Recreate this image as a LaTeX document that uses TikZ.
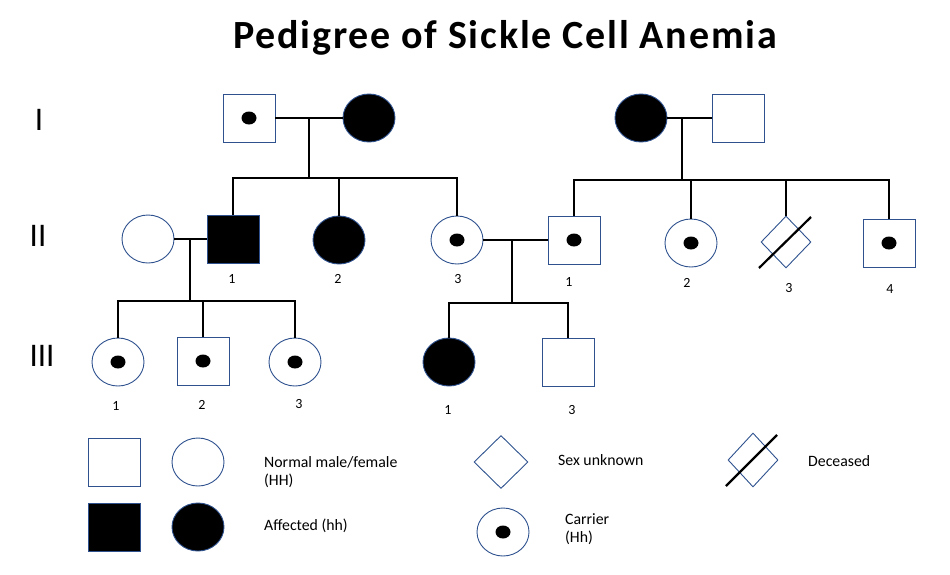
\documentclass[tikz,border=0pt]{standalone}
\usepackage{fontspec}
\setmainfont{Carlito}
\usetikzlibrary{shapes.geometric,calc}
\definecolor{shapeblue}{RGB}{47,82,143}
\tikzset{
  person/.style={
    draw=shapeblue, line width=0.9pt,
    minimum width=52pt, minimum height=48pt,
    inner sep=0pt
  },
  male/.style={person, rectangle},
  female/.style={person, ellipse},
  unknown/.style={person, diamond, minimum width=50pt, minimum height=52pt},
  affected/.style={fill=black},
  carrier/.style={
    path picture={\fill[black] (path picture bounding box.center) ellipse (7.5pt and 6.5pt);}
  },
  link/.style={line width=2.6pt, black},
  deadline/.style={line width=2.2pt, black},
  num/.style={font=\fontsize{14}{14}\selectfont, inner sep=0pt},
  gen/.style={font=\fontsize{33}{33}\selectfont, inner sep=0pt},
  keytext/.style={font=\fontsize{15.8}{18.5}\selectfont, align=left, anchor=west, inner sep=0pt}
}

\begin{document}
\begin{tikzpicture}[x=1pt, y=-1pt]
\fill[white] (0,0) rectangle (950,574);
\useasboundingbox (0,0) rectangle (950,574);

\node[font=\fontsize{40}{44}\selectfont\bfseries\addfontfeature{LetterSpace=4.5}, anchor=base, inner sep=0pt] (title) at (505,48)
  {Pedigree of Sickle Cell Anemia};

% generation labels
\node[gen] (gI)   at (39,120)  {I};
\node[gen] (gII)  at (38,236)  {II};
\node[gen] (gIII) at (42,356)  {III};

% generation I
\node[male, carrier]    (I1) at (249,118) {};
\node[female, affected] (I2) at (369,118) {};
\node[female, affected] (I3) at (641,118) {};
\node[male]             (I4) at (738,118) {};

% generation II
\node[female]           (IIa) at (148,239) {};
\node[male, affected]   (II1) at (233,239) {};
\node[female, affected] (II2) at (339,240) {};
\node[female, carrier]  (II3) at (457,240) {};
\node[male, carrier]    (IIb) at (574,240) {};
\node[female, carrier]  (IIc) at (691,243) {};
\node[unknown]          (IId) at (786,242) {};
\node[male, carrier]    (IIe) at (889,243) {};
\draw[deadline] ($(IId)+(-27,26)$) -- ($(IId)+(25,-25)$);

% generation III
\node[female, carrier]  (III1) at (118,362) {};
\node[male, carrier]    (III2) at (203,361) {};
\node[female, carrier]  (III3) at (295,362) {};
\node[female, affected] (III4) at (449,362) {};
\node[male]             (III5) at (568,362) {};

% numbers
\node[num] (nII1) at (232,279) {1};
\node[num] (nII2) at (338,279) {2};
\node[num] (nII3) at (458,279) {3};
\node[num] (nIIb) at (569,282) {1};
\node[num] (nIIc) at (687,283) {2};
\node[num] (nIId) at (789,288) {3};
\node[num] (nIIe) at (890,289) {4};
\node[num] (nIII1) at (116,406) {1};
\node[num] (nIII2) at (202,405) {2};
\node[num] (nIII3) at (299,404) {3};
\node[num] (nIII4) at (448,410) {1};
\node[num] (nIII5) at (572,410) {3};

% couples and sibships
\coordinate (mI1) at (309,118);
\coordinate (sI1) at (309,178);
\draw[link] (I1) -- (I2);
\draw[link] (mI1) -- (sI1);
\draw[link] (II1.north) |- (sI1) -| (II3.north);
\draw[link] (II2.north) -- (II2.north |- sI1);

\coordinate (mI2) at (682,118);
\coordinate (sI2) at (682,180);
\draw[link] (I3) -- (I4);
\draw[link] (mI2) -- (sI2);
\draw[link] (IIb.north) |- (sI2) -| (IIe.north);
\draw[link] (IIc.north) -- (IIc.north |- sI2);
\draw[link] (IId.north) -- (IId.north |- sI2);

\coordinate (mII1) at (190,239);
\coordinate (sII1) at (190,301);
\draw[link] (IIa) -- (II1);
\draw[link] (mII1) -- (sII1);
\draw[link] (III1.north) |- (sII1) -| (III3.north);
\draw[link] (III2.north) -- (III2.north |- sII1);

\coordinate (mII2) at (512,240);
\coordinate (sII2) at (512,303);
\draw[link] (II3) -- (IIb);
\draw[link] (mII2) -- (sII2);
\draw[link] (III4.north) |- (sII2) -| (III5.north);

% key
\node[male]                (kMale)    at (114,462) {};
\node[female]              (kFemale)  at (198,462) {};
\node[male, affected]      (kAffM)    at (114,527) {};
\node[female, affected]    (kAffF)    at (198,527) {};
\node[unknown, minimum width=54pt, minimum height=53pt] (kUnknown) at (501,462) {};
\node[unknown, minimum height=54pt] (kDead) at (753,460) {};
\draw[deadline] ($(kDead)+(-27,26)$) -- ($(kDead)+(24,-25)$);
\node[female, carrier]     (kCarrier) at (503,532) {};

\node[keytext] (tNormal)   at (264,472) {Normal male/female\\(HH)};
\node[keytext] (tAffected) at (264,526) {Affected (hh)};
\node[keytext] (tUnknown)  at (558,460) {Sex unknown};
\node[keytext] (tDead)     at (808,461) {Deceased};
\node[keytext] (tCarrier)  at (565,529) {Carrier\\(Hh)};
\end{tikzpicture}
\end{document}
